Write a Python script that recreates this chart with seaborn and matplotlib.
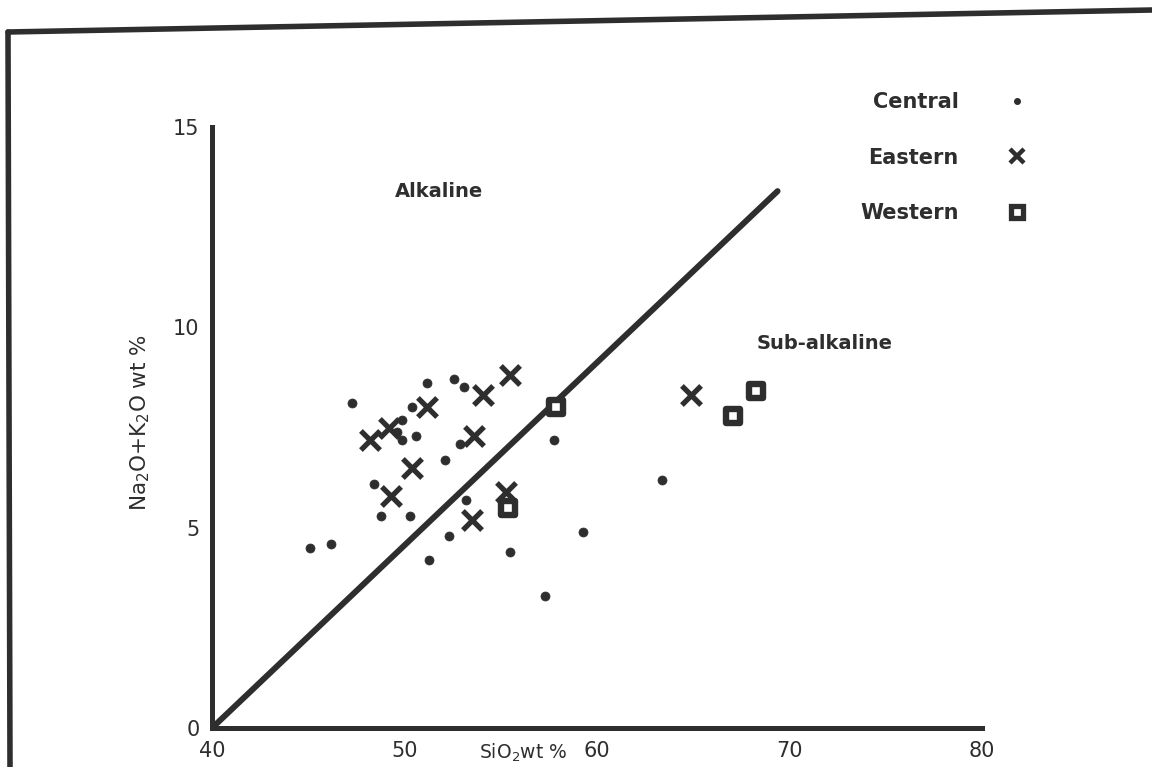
import pandas as pd
import matplotlib.pyplot as plt
import seaborn as sns
from matplotlib.lines import Line2D

sns.set_theme(style="white")
plt.rcParams['font.family'] = ['DejaVu Sans']

ink = '#2e2e2e'

# Values (SiO2 wt %, Na2O+K2O wt %)
central_sio2 = [47.3, 51.2, 52.6, 53.1, 50.4, 49.9, 49.6, 49.9, 50.6, 52.1, 52.9, 48.4,
                48.8, 50.3, 53.2, 57.8, 52.3, 46.2, 45.1, 51.3, 55.5, 59.3, 57.3, 63.4]
central_alk = [8.1, 8.6, 8.7, 8.5, 8.0, 7.7, 7.4, 7.2, 7.3, 6.7, 7.1, 6.1,
               5.3, 5.3, 5.7, 7.2, 4.8, 4.6, 4.5, 4.2, 4.4, 4.9, 3.3, 6.2]

eastern_sio2 = [48.2, 49.2, 51.2, 54.1, 55.5, 53.6, 50.4, 49.3, 53.5, 55.3, 64.9]
eastern_alk = [7.2, 7.5, 8.0, 8.3, 8.8, 7.3, 6.5, 5.8, 5.2, 5.9, 8.3]

western_sio2 = [57.9, 55.4, 67.1, 68.3]
western_alk = [8.0, 5.5, 7.8, 8.4]

divide_sio2 = [40.0, 69.4]
divide_alk = [0.0, 13.4]

regions = ['Central', 'Eastern', 'Western']

df = pd.concat([
    pd.DataFrame({'sio2': central_sio2, 'alk': central_alk, 'region': 'Central'}),
    pd.DataFrame({'sio2': eastern_sio2, 'alk': eastern_alk, 'region': 'Eastern'}),
    pd.DataFrame({'sio2': western_sio2, 'alk': western_alk, 'region': 'Western'}),
], ignore_index=True)

fig = plt.figure(figsize=(11.52, 7.67), dpi=100)
ax = fig.add_axes([0.184, 0.0508, 0.668, 0.7836])

# alkaline / sub-alkaline dividing line
sns.lineplot(x=divide_sio2, y=divide_alk, ax=ax, color=ink, linewidth=4.3, sort=False)

sns.scatterplot(data=df[df.region == 'Central'], x='sio2', y='alk', ax=ax,
                marker='o', s=42, color=ink, edgecolor=ink, legend=False, zorder=3)
sns.scatterplot(data=df[df.region == 'Eastern'], x='sio2', y='alk', ax=ax,
                marker='x', s=190, color=ink, linewidth=3.8, legend=False, zorder=3)
sns.scatterplot(data=df[df.region == 'Western'], x='sio2', y='alk', ax=ax,
                marker='s', s=105, facecolor='white', edgecolor=ink, linewidth=4.6,
                legend=False, zorder=4)

ax.set_xlim(40, 80)
ax.set_ylim(0, 15)
ax.set_xticks([40, 50, 60, 70, 80])
ax.set_yticks([0, 5, 10, 15])
ax.tick_params(axis='both', direction='out', length=3, width=3, color=ink,
               labelsize=15, labelcolor=ink, pad=6)

for side in ['top', 'right']:
    ax.spines[side].set_visible(False)
for side in ['left', 'bottom']:
    ax.spines[side].set_color(ink)
    ax.spines[side].set_linewidth(3.6)

ax.set_xlabel(r'SiO$_2$wt %', fontsize=13.5, color=ink)
ax.xaxis.set_label_coords(0.405, -0.022)
ax.set_ylabel(r'Na$_2$O+K$_2$O wt %', fontsize=15.5, color=ink)
ax.yaxis.set_label_coords(-0.078, 0.509)

ax.text(51.8, 13.4, 'Alkaline', ha='center', va='center', fontsize=14,
        fontweight='bold', color=ink)
ax.text(71.85, 9.6, 'Sub-alkaline', ha='center', va='center', fontsize=14,
        fontweight='bold', color=ink)

handles = [
    Line2D([], [], ls='', marker='o', ms=4, color=ink),
    Line2D([], [], ls='', marker='x', ms=10, mew=3.2, color=ink),
    Line2D([], [], ls='', marker='s', ms=9, mfc='white', mec=ink, mew=3.8),
]
ax.legend(handles, regions, markerfirst=False, frameon=False, loc='upper left',
          bbox_to_anchor=(852 / 1152, 1 - 84 / 767), bbox_transform=fig.transFigure,
          prop={'weight': 'bold', 'size': 15}, labelspacing=1.7, handlelength=1.0,
          handletextpad=2.3, borderaxespad=0, labelcolor=ink)

# edge of the scanned page
fig.add_artist(Line2D([8 / 1152, 1], [1 - 32 / 767, 1 - 10 / 767],
                      transform=fig.transFigure, color=ink, lw=4))
fig.add_artist(Line2D([8 / 1152, 10 / 1152], [1 - 32 / 767, 0],
                      transform=fig.transFigure, color=ink, lw=4))

fig.savefig('out.png', dpi=100)
